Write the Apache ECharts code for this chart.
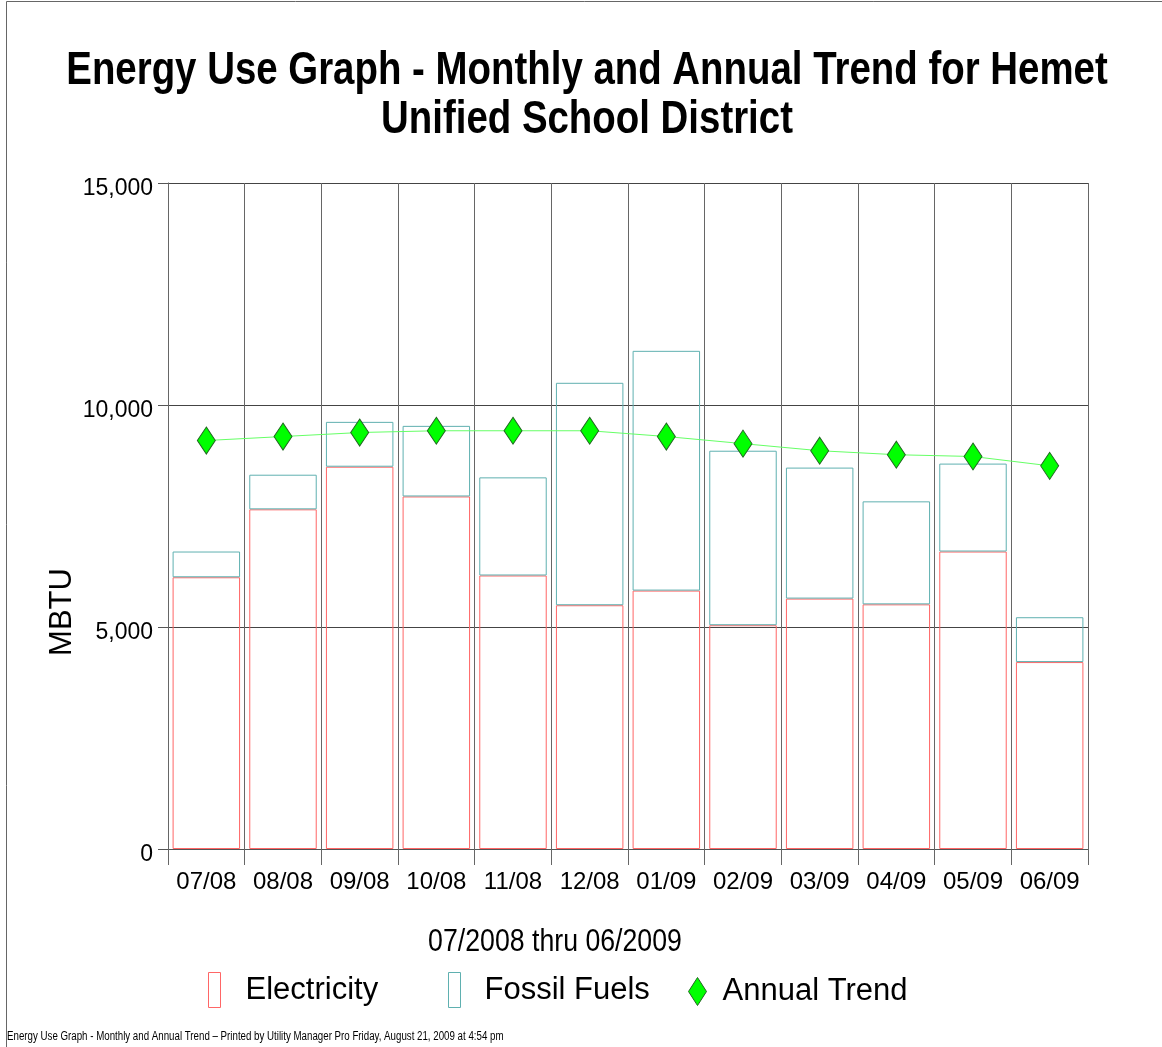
<!DOCTYPE html>
<html>
<head>
<meta charset="utf-8">
<title>Energy Use Graph</title>
<script src="https://cdn.jsdelivr.net/npm/echarts@6/dist/echarts.min.js"></script>
<style>
    html, body { margin: 0; padding: 0; background: #fff; }
    #chart { width: 1162px; height: 1047px; }
</style>
</head>
<body>
<div id="chart"></div>
<script>
const months = ['07/08', '08/08', '09/08', '10/08', '11/08', '12/08', '01/09', '02/09', '03/09', '04/09', '05/09', '06/09']
const electricity = [6120, 7650, 8610, 7940, 6160, 5490, 5820, 5040, 5640, 5510, 6700, 4210]
const fossilFuels = [580, 780, 1010, 1590, 2210, 5010, 5400, 3930, 2950, 2320, 1980, 1010]
const annualTrend = [9200, 9290, 9380, 9420, 9420, 9420, 9290, 9130, 8970, 8880, 8840, 8630]
const yTicks = [0, 5000, 10000, 15000]

const font = '"Liberation Sans", Arial, sans-serif'
const elecColor = '#ff6666'
const fossilColor = '#5fb0b0'
const trendColor = '#00ff00'

const myChart = echarts.init(document.getElementById('chart'))

const option = {
    backgroundColor: '#fff',
    animation: false,
    graphic: [
        // page frame (left + top only)
        { type: 'line', shape: { x1: 6.5, y1: 1.5, x2: 1162, y2: 1.5 }, style: { stroke: '#666', lineWidth: 1 } },
        { type: 'line', shape: { x1: 6.5, y1: 1.5, x2: 6.5, y2: 1047 }, style: { stroke: '#666', lineWidth: 1 } },
        {
            type: 'text', x: 587, y: 47, scaleX: 0.835,
            style: {
                text: 'Energy Use Graph - Monthly and Annual Trend for Hemet\nUnified School District',
                font: 'bold 46px ' + font, fill: '#000', align: 'center', verticalAlign: 'top', lineHeight: 49
            }
        },
        {
            type: 'text', x: 62, y: 612, rotation: Math.PI / 2,
            style: { text: 'MBTU', font: '31px ' + font, fill: '#000', align: 'center', verticalAlign: 'middle' }
        },
        {
            type: 'text', x: 555, y: 942, scaleX: 0.834,
            style: { text: '07/2008 thru 06/2009', font: '32px ' + font, fill: '#000', align: 'center', verticalAlign: 'middle' }
        },
        {
            type: 'text', x: 7, y: 1037, scaleX: 0.81,
            style: {
                text: 'Energy Use Graph - Monthly and Annual Trend \u2013 Printed by Utility Manager Pro Friday, August 21, 2009 at 4:54 pm',
                font: '12px ' + font, fill: '#000', verticalAlign: 'middle'
            }
        }
    ],
    legend: [
        {
            data: [{ name: 'Electricity', itemStyle: { color: '#fff', borderColor: elecColor, borderWidth: 1 } }],
            left: 208, top: 972, padding: 0, icon: 'rect', itemWidth: 12, itemHeight: 35,
            textStyle: { fontFamily: font, fontSize: 31, color: '#000', padding: [0, 0, 0, 20] }
        },
        {
            data: [{ name: 'Fossil Fuels', itemStyle: { color: '#fff', borderColor: fossilColor, borderWidth: 1 } }],
            left: 448, top: 972, padding: 0, icon: 'rect', itemWidth: 12, itemHeight: 35,
            textStyle: { fontFamily: font, fontSize: 31, color: '#000', padding: [0, 0, 0, 19] }
        },
        {
            data: [{ name: 'Annual Trend', itemStyle: { color: trendColor, borderColor: '#226622', borderWidth: 1 } }],
            left: 688, top: 976, padding: 0, icon: 'diamond', itemWidth: 18, itemHeight: 28,
            textStyle: { fontFamily: font, fontSize: 31, color: '#000', padding: [0, 0, 0, 11] }
        }
    ],
    grid: {
        left: 168,
        right: 74,
        top: 183,
        bottom: 198,
        containLabel: false
    },
    xAxis: {
        type: 'category',
        data: months,
        boundaryGap: true,
        z: 5,
        axisLine: { lineStyle: { color: '#555', width: 1 } },
        axisTick: { show: true, length: 16, interval: 0, lineStyle: { color: '#666' } },
        axisLabel: { interval: 0, margin: 21, color: '#000', fontFamily: font, fontSize: 24 },
        splitLine: { show: true, interval: 0, lineStyle: { color: '#666', width: 1 } }
    },
    yAxis: {
        type: 'value',
        min: yTicks[0],
        max: yTicks[yTicks.length - 1],
        interval: 5000,
        axisLine: { show: true, lineStyle: { color: '#555', width: 1 } },
        axisTick: { show: true, length: 10, lineStyle: { color: '#555' } },
        axisLabel: {
            margin: 15, color: '#000', fontFamily: font, fontSize: 23,
            verticalAlign: 'top', lineHeight: 12,
            formatter: (v) => v.toLocaleString('en-US')
        },
        splitLine: { show: true, lineStyle: { color: '#444', width: 1 } }
    },
    series: [
        {
            name: 'Electricity',
            type: 'bar',
            stack: 'energy',
            barWidth: '88%',
            itemStyle: { color: 'rgba(255,255,255,0)', borderColor: elecColor, borderWidth: 1 },
            data: electricity
        },
        {
            name: 'Fossil Fuels',
            type: 'bar',
            stack: 'energy',
            barWidth: '88%',
            itemStyle: { color: 'rgba(255,255,255,0)', borderColor: fossilColor, borderWidth: 1 },
            data: fossilFuels
        },
        {
            name: 'Annual Trend',
            type: 'line',
            z: 6,
            symbol: 'diamond',
            symbolSize: [18, 27],
            lineStyle: { color: '#66ff66', width: 1 },
            itemStyle: { color: trendColor, borderColor: '#226622', borderWidth: 1 },
            data: annualTrend
        }
    ]
}

myChart.setOption(option)
</script>
</body>
</html>
